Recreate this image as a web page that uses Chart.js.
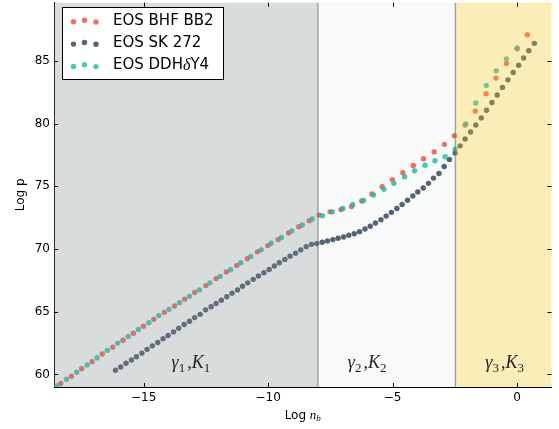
<!DOCTYPE html>
<html>
<head>
<meta charset="utf-8">
<script src="https://cdn.jsdelivr.net/npm/chart.js@4.4.0/dist/chart.umd.min.js"></script>
<style>
  body { margin: 0; background: #fff; }
  canvas { display: block; }
</style>
</head>
<body>
<canvas id="eosChart" width="559" height="429"></canvas>
<script>
// EOS tables: log n_b against log p
const bhfX = [-18.33, -17.90, -17.49, -17.07, -16.66, -16.24, -15.83, -15.41, -15.01, -14.59,
  -14.17, -13.76, -13.35, -12.95, -12.50, -12.09, -11.68, -11.26, -10.84, -10.43,
  -10.01, -9.60, -9.18, -8.77, -8.35, -7.95, -7.51, -7.07, -6.65, -6.24,
  -5.83, -5.42, -5.01, -4.59, -4.17, -3.76, -3.33, -2.92, -2.52, -2.09,
  -1.68, -1.25, -0.85, -0.43, 0.00, 0.41];
const bhfY = [59.28, 59.86, 60.46, 61.02, 61.63, 62.18, 62.73, 63.29, 63.84, 64.39,
  64.95, 65.45, 66.00, 66.53, 67.08, 67.64, 68.17, 68.69, 69.22, 69.77,
  70.27, 70.75, 71.28, 71.78, 72.25, 72.70, 72.96, 73.15, 73.39, 73.83,
  74.39, 74.97, 75.53, 76.08, 76.66, 77.19, 77.74, 78.34, 79.03, 79.88,
  80.99, 82.38, 83.62, 84.78, 85.95, 87.08];

const skX = [-16.13, -15.92, -15.71, -15.49, -15.29, -15.07, -14.86, -14.65, -14.43, -14.22,
  -14.02, -13.80, -13.59, -13.37, -13.16, -12.95, -12.73, -12.51, -12.29, -12.09,
  -11.88, -11.66, -11.45, -11.23, -11.03, -10.82, -10.60, -10.39, -10.17, -9.96,
  -9.75, -9.55, -9.33, -9.12, -8.90, -8.69, -8.47, -8.26, -8.05, -7.83,
  -7.62, -7.40, -7.19, -6.97, -6.76, -6.54, -6.33, -6.11, -5.90, -5.69,
  -5.47, -5.26, -5.05, -4.83, -4.62, -4.40, -4.19, -3.99, -3.77, -3.56,
  -3.36, -3.14, -2.93, -2.72, -2.49, -2.29, -2.09, -1.87, -1.66, -1.44,
  -1.23, -1.01, -0.80, -0.59, -0.37, -0.16, 0.06, 0.26, 0.47, 0.69];
const skY = [60.34, 60.60, 60.89, 61.15, 61.41, 61.70, 62.00, 62.28, 62.55, 62.84,
  63.11, 63.39, 63.68, 63.98, 64.24, 64.53, 64.79, 65.15, 65.40, 65.66,
  65.92, 66.19, 66.48, 66.74, 67.03, 67.30, 67.58, 67.85, 68.11, 68.37,
  68.64, 68.90, 69.17, 69.43, 69.67, 69.93, 70.19, 70.37, 70.43, 70.54,
  70.64, 70.75, 70.86, 70.96, 71.10, 71.22, 71.38, 71.59, 71.81, 72.07,
  72.33, 72.62, 72.92, 73.23, 73.55, 73.89, 74.23, 74.55, 74.86, 75.23,
  75.65, 76.02, 76.58, 77.13, 77.66, 78.22, 78.77, 79.32, 79.88, 80.45,
  81.06, 81.67, 82.27, 82.88, 83.48, 84.07, 84.65, 85.23, 85.81, 86.39];

const ddhX = [-18.49, -18.10, -17.69, -17.27, -16.87, -16.46, -16.04, -15.62, -15.21, -14.79,
  -14.39, -13.98, -13.56, -13.16, -12.76, -12.34, -11.93, -11.51, -11.10, -10.70,
  -10.28, -9.88, -9.47, -9.05, -8.63, -8.23, -7.82, -7.42, -7.00, -6.60,
  -6.17, -5.77, -5.35, -4.95, -4.52, -4.12, -3.70, -3.30, -2.89, -2.49,
  -2.06, -1.66, -1.24, -0.84, -0.43, 0.00];
const ddhY = [59.09, 59.62, 60.18, 60.76, 61.33, 61.92, 62.50, 63.03, 63.58, 64.13,
  64.69, 65.19, 65.72, 66.23, 66.74, 67.30, 67.82, 68.35, 68.90, 69.40,
  69.93, 70.46, 70.91, 71.44, 71.91, 72.39, 72.65, 72.96, 73.23, 73.55,
  73.86, 74.31, 74.76, 75.23, 75.76, 76.24, 76.68, 77.03, 77.35, 77.96,
  79.96, 81.64, 83.04, 84.20, 85.15, 86.02];

const seriesNames = ['EOS BHF BB2', 'EOS SK 272', 'EOS DDHδY4'];
const xTicks = [-15, -10, -5, 0];
const yTicks = [60, 65, 70, 75, 80, 85];

// piecewise polytrope regions (log n_b boundaries) and their labels
const regionEdges = [-8, -2.48];
const regionLabels = ['γ_1 ,K_1', 'γ_2 ,K_2', 'γ_3 ,K_3'];
const regionLabelX = [-13.1, -6.02, -0.5];
const regionLabelY = 60.52;

const toPoints = (xs, ys) => xs.map((x, i) => ({ x: x, y: ys[i] }));

const pointColors = ['rgba(231, 76, 60, 0.8)', 'rgba(52, 73, 94, 0.85)', 'rgba(26, 188, 156, 0.8)'];

Chart.defaults.font.family = '"DejaVu Sans", sans-serif';
Chart.defaults.color = '#000';

// little helper for mathtext-like strings, "_x" makes x a subscript
function mathRuns(str) {
  const runs = [];
  for (let i = 0; i < str.length; i++) {
    if (str[i] === '_') {
      runs.push({ t: str[i + 1], sub: true, italic: /[A-Za-z]/.test(str[i + 1]) });
      i++;
    } else {
      runs.push({ t: str[i], sub: false, italic: /[A-Za-zα-ω]/.test(str[i]) });
    }
  }
  return runs;
}

function measureMath(ctx, str, size) {
  const runs = mathRuns(str);
  let w = 0;
  runs.forEach(r => {
    const s = r.sub ? Math.round(size * 0.7) : size;
    r.font = (r.italic ? 'italic ' : '') + s + 'px "Liberation Serif"';
    ctx.font = r.font;
    r.w = r.t === ' ' ? size * 0.12 : ctx.measureText(r.t).width;
    w += r.w;
  });
  return { runs: runs, width: w };
}

function drawMath(ctx, str, x, y, size) {
  const m = measureMath(ctx, str, size);
  let px = x;
  m.runs.forEach(r => {
    if (r.t !== ' ') {
      ctx.font = r.font;
      ctx.fillText(r.t, px, y + (r.sub ? size * 0.2 : 0));
    }
    px += r.w;
  });
  return m.width;
}

const regionPlugin = {
  id: 'regionShading',
  beforeDatasetsDraw(chart) {
    const { ctx, chartArea, scales } = chart;
    const e1 = scales.x.getPixelForValue(regionEdges[0]);
    const e2 = scales.x.getPixelForValue(regionEdges[1]);
    ctx.save();
    ctx.fillStyle = '#f8f9f9';
    ctx.fillRect(e1, chartArea.top, e2 - e1, chartArea.bottom - chartArea.top);
    ctx.restore();
  },
  afterDatasetsDraw(chart) {
    const { ctx, chartArea, scales } = chart;
    const e1 = scales.x.getPixelForValue(regionEdges[0]);
    const e2 = scales.x.getPixelForValue(regionEdges[1]);
    const h = chartArea.bottom - chartArea.top;
    ctx.save();
    ctx.fillStyle = 'rgba(127, 140, 141, 0.3)';
    ctx.fillRect(chartArea.left, chartArea.top, e1 - chartArea.left, h);
    ctx.fillStyle = 'rgba(241, 196, 15, 0.3)';
    ctx.fillRect(e2, chartArea.top, chartArea.right - e2, h);
    ctx.strokeStyle = 'rgba(100, 100, 100, 0.55)';
    ctx.lineWidth = 1.5;
    [e1, e2].forEach(px => {
      ctx.beginPath();
      ctx.moveTo(px, chartArea.top);
      ctx.lineTo(px, chartArea.bottom);
      ctx.stroke();
    });

    // region labels
    ctx.fillStyle = '#222';
    ctx.textBaseline = 'alphabetic';
    regionLabels.forEach((lbl, i) => {
      const w = measureMath(ctx, lbl, 18).width;
      const cx = scales.x.getPixelForValue(regionLabelX[i]);
      const cy = scales.y.getPixelForValue(regionLabelY);
      drawMath(ctx, lbl, cx - w / 2, cy, 18);
    });
    ctx.restore();
  },
  afterDraw(chart) {
    const { ctx, chartArea, scales } = chart;
    ctx.save();
    // inward ticks on all four sides
    ctx.strokeStyle = '#000';
    ctx.lineWidth = 1;
    ctx.beginPath();
    scales.x.ticks.forEach(t => {
      const px = Math.round(scales.x.getPixelForValue(t.value)) + 0.5;
      ctx.moveTo(px, chartArea.bottom); ctx.lineTo(px, chartArea.bottom - 4);
      ctx.moveTo(px, chartArea.top); ctx.lineTo(px, chartArea.top + 4);
    });
    scales.y.ticks.forEach(t => {
      const py = Math.round(scales.y.getPixelForValue(t.value)) + 0.5;
      ctx.moveTo(chartArea.left, py); ctx.lineTo(chartArea.left + 4, py);
      ctx.moveTo(chartArea.right, py); ctx.lineTo(chartArea.right - 4, py);
    });
    ctx.stroke();

    // x axis title: Log n_b
    ctx.fillStyle = '#000';
    ctx.textBaseline = 'alphabetic';
    const head = 'Log ';
    const mw = measureMath(ctx, 'n_b', 13).width;
    ctx.font = '12px "DejaVu Sans"';
    const hw = ctx.measureText(head).width;
    const cx = (chartArea.left + chartArea.right) / 2;
    const tx = cx - (hw + mw) / 2;
    ctx.fillText(head, tx, 418.5);
    drawMath(ctx, 'n_b', tx + hw, 418.5, 13);

    // legend
    const bx = 62.5, by = 7.5, bw = 161, bh = 72;
    ctx.fillStyle = '#fff';
    ctx.fillRect(bx, by, bw, bh);
    ctx.strokeStyle = '#000';
    ctx.strokeRect(bx, by, bw, bh);
    const dots = [[73.5, 0.8], [84.5, -0.8], [96, 1.0]];
    chart.data.datasets.forEach((ds, i) => {
      const cy = 21 + i * 22.3;
      ctx.fillStyle = ds.backgroundColor;
      dots.forEach(([dx, dy]) => {
        ctx.beginPath();
        ctx.arc(dx, cy + dy, 2.7, 0, Math.PI * 2);
        ctx.fill();
      });
      ctx.fillStyle = '#000';
      ctx.textBaseline = 'middle';
      let lx = 113;
      ds.label.split(/(δ)/).forEach(part => {
        if (!part) return;
        ctx.font = part === 'δ' ? 'italic 16px "Liberation Serif"' : '15px "DejaVu Sans"';
        ctx.fillText(part, lx, cy);
        lx += ctx.measureText(part).width;
      });
    });
    ctx.restore();
  }
};

new Chart(document.getElementById('eosChart'), {
  type: 'scatter',
  data: {
    datasets: [
      { label: seriesNames[0], data: toPoints(bhfX, bhfY), backgroundColor: pointColors[0], order: 3 },
      { label: seriesNames[1], data: toPoints(skX, skY), backgroundColor: pointColors[1], order: 2 },
      { label: seriesNames[2], data: toPoints(ddhX, ddhY), backgroundColor: pointColors[2], order: 1 }
    ]
  },
  options: {
    responsive: false,
    animation: false,
    devicePixelRatio: 1,
    layout: { padding: { top: 0, right: 7.5, bottom: 0, left: 0 } },
    elements: {
      point: { radius: 2.7, borderWidth: 0, hoverRadius: 2.7 }
    },
    plugins: {
      legend: { display: false },
      tooltip: { enabled: false }
    },
    scales: {
      x: {
        type: 'linear',
        min: -18.6,
        max: 1.38,
        grid: { display: false, drawTicks: false },
        border: { display: true, color: '#000', width: 1 },
        ticks: {
          padding: 4,
          font: { size: 12 },
          callback: v => v < 0 ? '\u2212' + Math.abs(v) : String(v)
        },
        afterBuildTicks: s => { s.ticks = xTicks.map(v => ({ value: v })); },
        afterFit: s => { s.height = 42; s.paddingLeft = 0; s.paddingRight = 0; }
      },
      y: {
        type: 'linear',
        min: 59.0,
        max: 89.63,
        grid: { display: false, drawTicks: false },
        border: { display: true, color: '#000', width: 1 },
        ticks: { padding: 4, font: { size: 12 } },
        title: { display: true, text: 'Log p', font: { size: 12 }, padding: { top: 14, bottom: 0 } },
        afterBuildTicks: s => { s.ticks = yTicks.map(v => ({ value: v })); },
        afterFit: s => { s.width = 54; s.paddingTop = 0; s.paddingBottom = 0; }
      }
    }
  },
  plugins: [regionPlugin]
});
</script>
</body>
</html>
